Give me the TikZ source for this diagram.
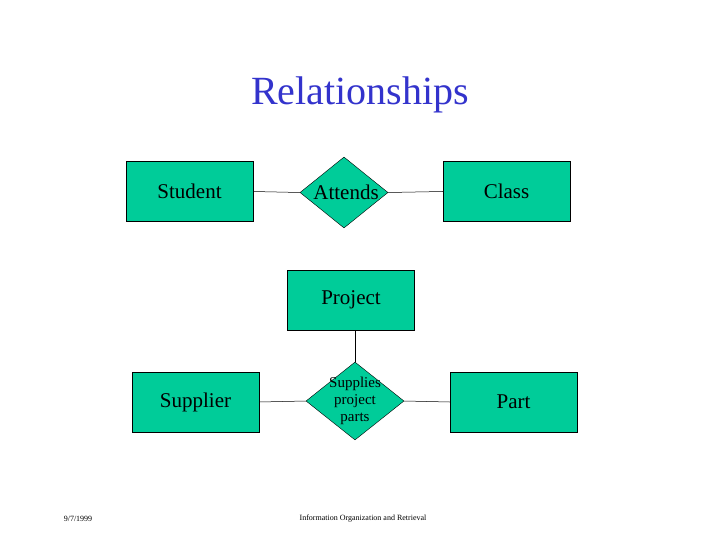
\documentclass[tikz,border=0pt]{standalone}
\usepackage{fontspec}
\setmainfont{Liberation Serif}
\usetikzlibrary{shapes.geometric}
\definecolor{boxg}{HTML}{00CC99}
\definecolor{titleb}{HTML}{3333CC}
\begin{document}
\begin{tikzpicture}[x=1pt,y=-1pt,
  ent/.style={draw=black,fill=boxg,minimum width=127pt,minimum height=60pt,inner sep=0pt,font=\fontsize{21}{24}\selectfont},
  rel/.style={draw=black,fill=boxg,diamond,inner sep=0pt,minimum width=#1},
  ln/.style={draw=black,line width=0.5pt}]
\useasboundingbox (0,0) rectangle (720,540);
\node[text=titleb,font=\fontsize{40}{46}\selectfont] (title) at (360,95) {Relationships};
\node[ent] (student) at (189.5,191.5) {Student};
\node[rel,minimum width=88pt,minimum height=71pt,diamond,aspect=1.24,font=\fontsize{21}{24}\selectfont] (attends) at (344,192.5) {};
\node[font=\fontsize{21}{24}\selectfont] (attl) at (346,192.5) {Attends};
\node[ent] (class) at (506.5,191.5) {Class};
\node[ent] (project) at (351,300) {Project};
\node[ent] (supplier) at (195.5,402) {Supplier};
\node[rel,minimum width=98pt,minimum height=78pt,aspect=1.26] (supplies) at (355,401) {};
\node[align=center,font=\fontsize{15}{17}\selectfont] (supl) at (355,401) {Supplies\\project\\parts};
\node[ent] (part) at (513.5,402) {Part};
\draw[ln] (student.east) -- (attends.west);
\draw[ln] (attends.east) -- (class.west);
\draw[ln] (project.south -| supplies.north) -- (supplies.north);
\draw[ln] (supplier.east) -- (supplies.west);
\draw[ln] (supplies.east) -- (part.west);
\node[font=\fontsize{8}{10}\selectfont] (date) at (78,519) {9/7/1999};
\node[font=\fontsize{8}{10}\selectfont] (foot) at (363,519) {Information Organization and Retrieval};
\end{tikzpicture}
\end{document}
